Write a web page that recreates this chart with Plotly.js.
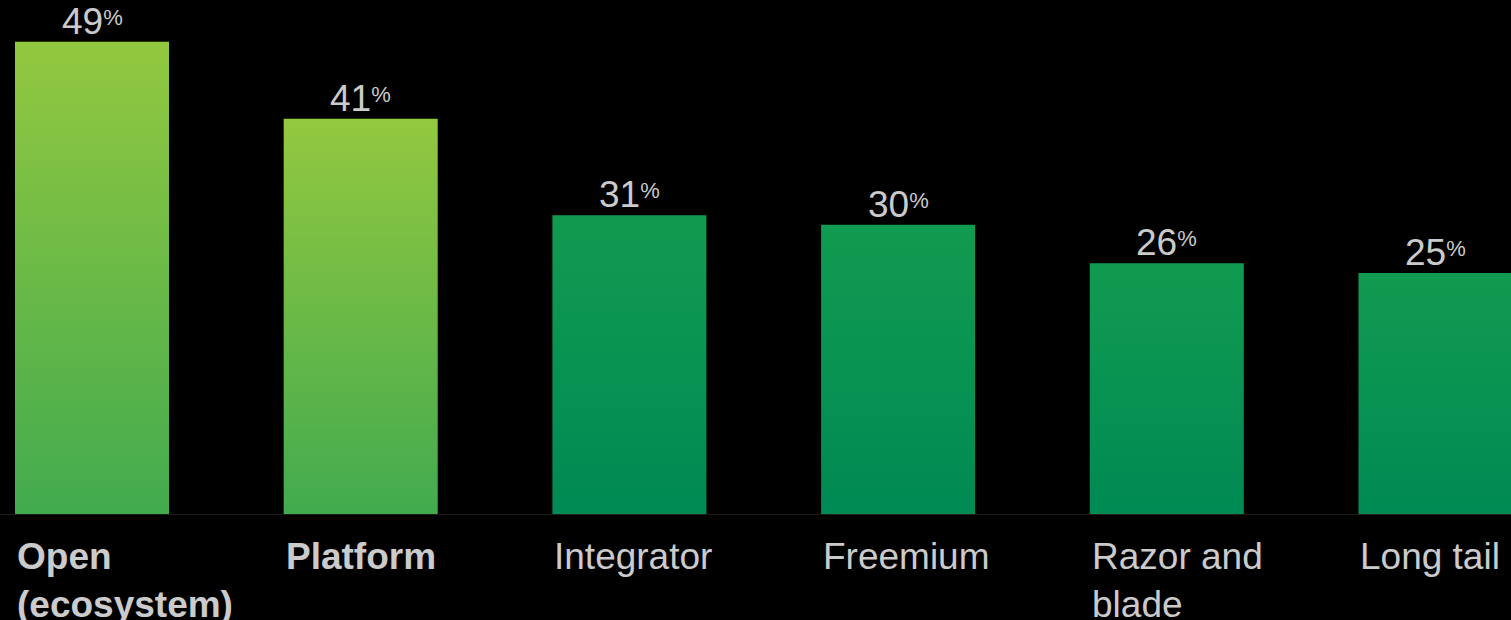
<!DOCTYPE html>
<html><head><meta charset="utf-8">
<script src="https://cdn.plot.ly/plotly-3.0.1.min.js"></script>
<style>html,body{margin:0;padding:0;background:#000;}#chart{width:1511px;height:620px;}</style>
</head><body><div id="chart"></div>
<script>
// ---- data ----
const categories = ['Open (ecosystem)', 'Platform', 'Integrator', 'Freemium', 'Razor and blade', 'Long tail'];
const tickLabels = ['Open<br>(ecosystem)', 'Platform', 'Integrator', 'Freemium', 'Razor and<br>blade', 'Long tail'];
const values = [49, 41, 31, 30, 26, 25];
const emphasized = ['Open (ecosystem)', 'Platform'];

// ---- style ----
const HALF = 0.2866;
const LIGHT = {top: '#93c83f', bottom: '#42ab4f'};
const DARK = {top: '#119b50', bottom: '#008a54'};
const TEXT = '#cbcbcb';
const FONT = 'Liberation Sans, Arial, sans-serif';

const traces = categories.map((c, i) => {
  const pal = emphasized.includes(c) ? LIGHT : DARK;
  return {
    type: 'scatter', mode: 'lines',
    x: [i - HALF, i - HALF, i + HALF, i + HALF, i - HALF],
    y: [0, values[i], values[i], 0, 0],
    fill: 'toself',
    line: {width: 0},
    fillgradient: {type: 'vertical', colorscale: [[0, pal.bottom], [1, pal.top]]},
    hoverinfo: 'skip', showlegend: false, name: c
  };
});

const annotations = [];
categories.forEach((c, i) => {
  annotations.push({
    x: i, y: values[i], xref: 'x', yref: 'y', xanchor: 'center', yanchor: 'bottom',
    text: values[i] + '<span style="font-size:22px;baseline-shift:9px">%</span>', showarrow: false,
    font: {family: FONT, size: 37, color: TEXT}, yshift: -2
  });
  const t = emphasized.includes(c) ? '<b>' + tickLabels[i] + '</b>' : tickLabels[i];
  annotations.push({
    x: i - HALF, y: 0, xref: 'x', yref: 'y', xanchor: 'left', yanchor: 'top', align: 'left',
    text: t, showarrow: false, xshift: 0, yshift: -20,
    font: {family: FONT, size: 37, color: TEXT}
  });
});

const layout = {
  width: 1511, height: 620,
  paper_bgcolor: '#000', plot_bgcolor: '#000',
  margin: {l: 0, r: 0, t: 0, b: 106, pad: 0},
  showlegend: false,
  xaxis: {range: [-0.3424, 5.281], showgrid: false, zeroline: false, showticklabels: false,
          showline: true, linecolor: '#1c1c1c', linewidth: 1, fixedrange: true},
  yaxis: {range: [0, 53.32], visible: false, fixedrange: true},
  annotations: annotations
};

Plotly.newPlot('chart', traces, layout, {displayModeBar: false, staticPlot: true});
</script></body></html>
